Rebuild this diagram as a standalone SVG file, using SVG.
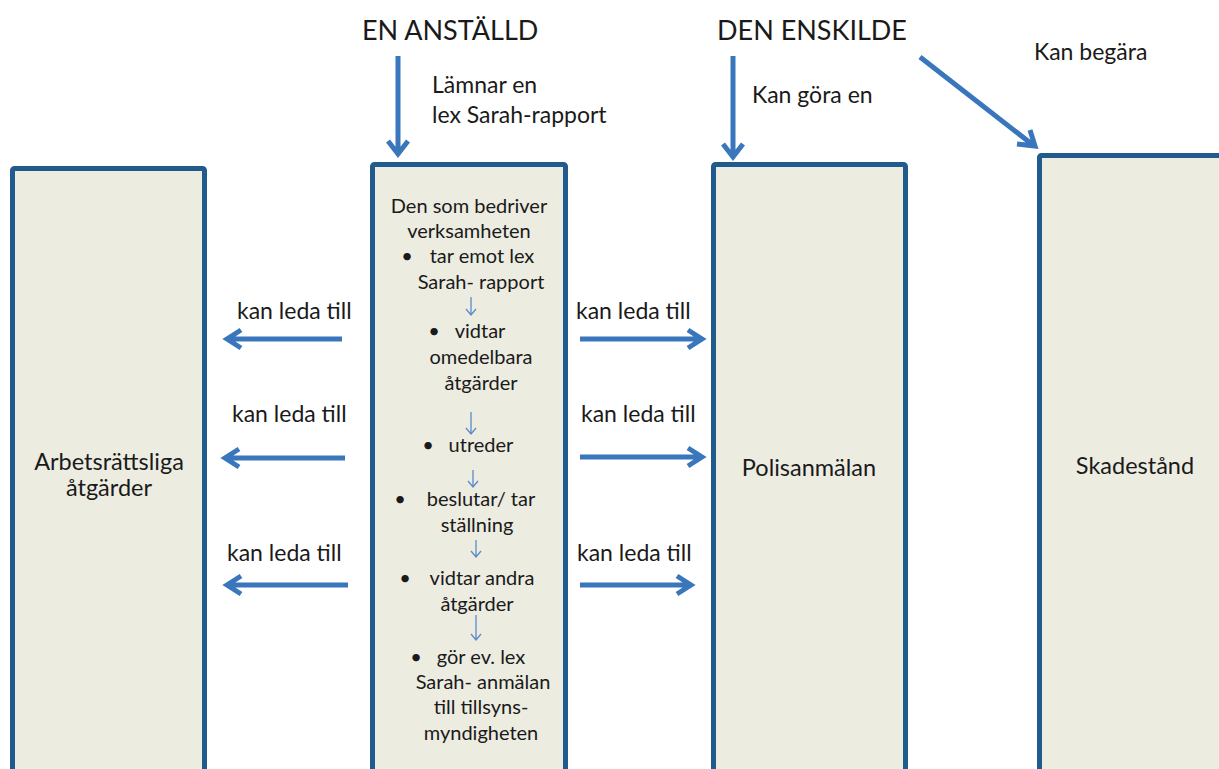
<svg xmlns="http://www.w3.org/2000/svg" width="1219" height="769" viewBox="0 0 1219 769">
<style>
.box{fill:#ECECE1;stroke:#215A8D;stroke-width:5}
.t{font-family:Lato,"Liberation Sans",sans-serif;fill:#1a1a1a}
.big{font-size:27px}
.lbl{font-size:23px}
.c{font-size:20px;text-anchor:middle}
.n{font-size:23.5px;text-anchor:middle}
.arr{fill:none;stroke:#3A76BC;stroke-width:5;stroke-linejoin:miter}
.sm{fill:none;stroke:#5A8BCB;stroke-width:1.3}
</style>
<rect width="1219" height="769" fill="#fff"/>
<g id="titles">
<text class="t big" x="362" y="40">EN ANSTÄLLD</text>
<text class="t big" x="717" y="40">DEN ENSKILDE</text>
</g>
<g id="arbetsrattsliga">
<rect class="box" x="12.5" y="168.5" width="192" height="640" rx="2"/>
<text class="t n" x="109" y="470">Arbetsrättsliga</text>
<text class="t n" x="109" y="496">åtgärder</text>
</g>
<g id="verksamheten">
<rect class="box" x="372.5" y="164.5" width="193" height="640" rx="2"/>
<text class="t c" x="469" y="213">Den som bedriver</text>
<text class="t c" x="469" y="238">verksamheten</text>
<text class="t c" x="407" y="263">•</text>
<text class="t c" x="482" y="263">tar emot lex</text>
<text class="t c" x="481" y="289">Sarah- rapport</text>
<text class="t c" x="434" y="338">•</text>
<text class="t c" x="480" y="338">vidtar</text>
<text class="t c" x="481" y="364">omedelbara</text>
<text class="t c" x="481" y="390">åtgärder</text>
<text class="t c" x="428" y="452">•</text>
<text class="t c" x="481" y="452">utreder</text>
<text class="t c" x="400" y="506">•</text>
<text class="t c" x="481" y="506">beslutar/  tar</text>
<text class="t c" x="477" y="532">ställning</text>
<text class="t c" x="405" y="585">•</text>
<text class="t c" x="482" y="585">vidtar andra</text>
<text class="t c" x="477" y="611">åtgärder</text>
<text class="t c" x="416" y="664">•</text>
<text class="t c" x="481" y="664">gör ev. lex</text>
<text class="t c" x="483" y="689">Sarah- anmälan</text>
<text class="t c" x="481" y="714">till tillsyns-</text>
<text class="t c" x="481" y="740">myndigheten</text>
</g>
<g id="polisanmalan">
<rect class="box" x="713.5" y="164.5" width="192" height="640" rx="2"/>
<text class="t n" x="809" y="476">Polisanmälan</text>
</g>
<g id="skadestand">
<rect class="box" x="1039.5" y="155.5" width="300" height="640" rx="2"/>
<text class="t n" x="1135" y="474">Skadestånd</text>
</g>
<g id="connectors">
<path class="arr" d="M398 56V153M388 141L398 154L408 141"/>
<path class="arr" d="M733 56V156M723 144L733 157L743 144"/>
<path class="arr" d="M920 57L1033 145M1017 144L1035 146L1030 130"/>
<path class="arr" d="M342 339H228M241 330L227 339L241 348"/>
<path class="arr" d="M345 458H226M239 449L225 458L239 467"/>
<path class="arr" d="M348 585H228M241 576L227 585L241 594"/>
<path class="arr" d="M580 339H701M688 330L702 339L688 348"/>
<path class="arr" d="M580 457H701M688 448L702 457L688 466"/>
<path class="arr" d="M580 585H690M677 576L691 585L677 594"/>
<path class="sm" d="M471 297V315M466 309L471 315L476 309"/>
<path class="sm" d="M471 412V434M466 428L471 434L476 428"/>
<path class="sm" d="M473 470V487M468 481L473 487L478 481"/>
<path class="sm" d="M476 540V557M471 551L476 557L481 551"/>
<path class="sm" d="M476 615V640M471 634L476 640L481 634"/>
</g>
<g id="labels">
<text class="t lbl" x="432" y="93">Lämnar en</text>
<text class="t lbl" x="432" y="123">lex Sarah-rapport</text>
<text class="t lbl" x="752" y="103">Kan göra en</text>
<text class="t lbl" x="1034" y="60">Kan begära</text>
<text class="t lbl" x="237" y="319">kan leda till</text>
<text class="t lbl" x="232" y="422">kan leda till</text>
<text class="t lbl" x="227" y="561">kan leda till</text>
<text class="t lbl" x="576" y="319">kan leda till</text>
<text class="t lbl" x="581" y="422">kan leda till</text>
<text class="t lbl" x="577" y="561">kan leda till</text>
</g>
</svg>
